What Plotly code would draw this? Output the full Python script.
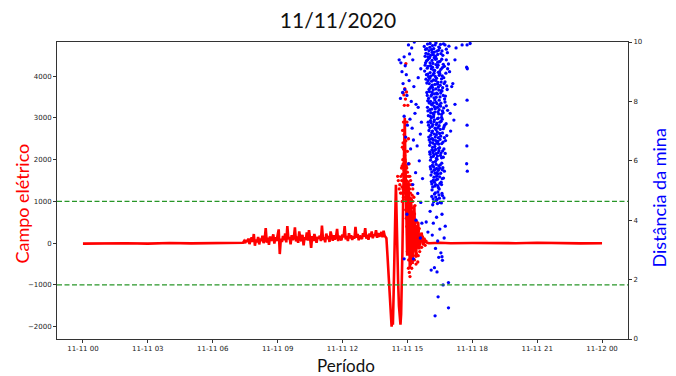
import pandas as pd
import plotly.graph_objects as go

BASE = pd.Timestamp("2020-11-11")

# ---------------- Campo elétrico (red, left axis) ----------------
red_pre_hours = [0.0, 0.9, 1.0, 2.0, 3.0, 4.0, 5.0, 6.0, 7.0, 7.35]
red_pre_vals = [-10, -5, 5, 0, -10, 5, -5, 0, 10, 20]

noise_start = 7.40
noise_step = 0.05
noise_vals = [
    10, 50, 0, 80, 30, 110, -20, 70, 140, 30,
    220, -60, 90, 20, 150, -30, 110, 50, 180, 0,
    80, 360, 10, 130, -40, 160, 60, 100, 210, -10,
    140, 50, 190, 330, -260, 110, 30, 170, 70, 230,
    20, 410, 90, 150, -30, 190, 80, 130, 380, 40,
    160, 10, 280, 100, 50, 200, -50, 140, 80, 260,
    60, 310, 120, -110, 170, 50, 220, 90, 10, 150,
    110, 180, 50, 420, 80, 140, 20, 230, 100, 170,
    30, 280, 120, 60, 190, 90, 150, 340, 50, 180,
    110, 70, 210, 140, 410, 90, 170, 50, 240, 120,
    190, 80, 160, 110, 390, 130, 220, 70, 180, 140,
    100, 240, 160, 360, 110, 200, 80, 230, 150, 280,
    120, 210, 170, 310, 130, 240, 160, 190, 270, 140,
    300, 180, 140,
]

event_hours = [14.03, 14.08, 14.13, 14.18, 14.23, 14.27, 14.30, 14.33, 14.36, 14.39,
               14.42, 14.45, 14.47, 14.50, 14.53, 14.57, 14.61, 14.65, 14.68, 14.71,
               14.74, 14.77, 14.80, 14.83, 14.86, 14.88, 14.90, 14.93, 14.96, 14.99,
               15.02, 15.05, 15.08, 15.11, 15.14, 15.17, 15.20, 15.24, 15.28, 15.32,
               15.36, 15.40, 15.45, 15.50, 15.55, 15.60, 15.66, 15.72, 15.78, 15.85,
               15.92, 16.00]
event_vals = [120, -300, -800, -1300, -1750, -2000, -1850, -1950, -1300, -400,
              500, 1200, 1400, 700, -200, -900, -1500, -1900, -1950, -1700,
              -1100, -200, 900, 1700, 2500, 3000, 2200, 1400, 500, -300,
              600, 1500, 700, -600, 200, 1100, 300, -500, 400, 900,
              100, -350, 300, 500, -150, 150, 250, -50, 100, 30,
              10, 0]

red_post_hours = [16.5, 17.0, 18.0, 19.0, 20.0, 21.0, 22.0, 23.0, 24.0]
red_post_vals = [10, 0, 5, -5, 0, 10, 0, -5, 0]

cloud_hours = [
    14.80, 14.84, 14.88, 14.91, 14.96, 14.86, 14.82, 14.78, 14.85, 14.80,
    14.83, 14.87, 14.90, 14.79, 14.93, 15.00, 14.97, 15.08, 14.76, 14.93,
    14.72, 14.74, 14.76, 14.78, 14.80, 14.82, 14.84, 14.86, 14.88, 14.90,
    14.92, 14.94, 14.96, 14.98, 15.00, 15.02, 15.04, 15.06, 15.08, 15.10,
    15.12, 15.14, 15.16, 15.18, 15.20, 15.24, 15.28, 14.81, 14.89, 14.95,
    15.03, 14.75, 14.99, 15.07, 15.13, 15.22,
    14.92, 14.95, 14.98, 15.01, 15.04, 15.06, 15.09, 15.12, 15.15, 15.18,
    15.21, 15.24, 15.27, 15.30, 15.33, 15.36, 15.39, 15.42, 15.45, 15.48,
    15.51, 15.54, 15.57, 15.60, 15.63, 15.66, 15.70, 15.74, 15.78, 15.82,
    15.86, 15.10, 15.16, 15.20, 15.26, 15.32, 15.40, 15.00, 15.03, 15.14,
    15.05, 15.35, 15.44, 15.50, 14.58, 14.62, 14.55,
    14.65, 14.70, 15.15, 15.25, 15.30, 15.35, 14.68, 15.18, 15.22, 15.05,
    14.98, 15.02, 14.73, 14.77, 15.11, 15.33, 15.45, 15.55, 15.38, 15.48,
]
cloud_vals = [
    3600, 3550, 3700, 3450, 3620, 3300, 2900, 2700, 2600, 2400,
    2250, 2100, 1950, 2000, 2450, 2200, 1800, 1900, 1850, 4300,
    1200, 1500, 1000, 1650, 1300, 1100, 1750, 1450, 1200, 1600,
    1050, 1350, 1500, 1150, 1700, 1250, 950, 1400, 1100, 1300,
    1000, 1200, 900, 1050, 850, 1000, 700, 1900, 2000, 1850,
    1600, 1350, 1000, 800, 700, 600,
    800, 600, 400, 200, -100, -400, -700, -800, -500, -300,
    100, 300, -200, 500, -400, 200, 400, -250, 150, -100,
    300, 100, -200, 200, 50, -100, 150, 0, 100, -50,
    50, 500, 600, -600, 750, 100, -500, -200, 700, 300,
    -600, -150, 350, -300, 1500, 1300, 1600,
    1400, 1600, 1500, 1300, 1100, 900, 1200, 1400, 1150, 2500,
    2900, 3300, 1800, 2300, 1600, 700, 500, 350, -300, -450,
]

# ---------------- Distância da mina (blue, right axis) ----------------
core_hours = [
    15.78, 15.86, 15.93, 16.00, 16.08, 16.16, 16.24, 16.32, 16.40, 16.49, 16.60, 16.74,
    15.82, 15.90, 15.97, 16.05, 16.12, 16.20, 16.28, 16.36, 16.45, 16.55, 16.67, 16.85,
    15.84, 15.92, 16.00, 16.07, 16.14, 16.22, 16.30, 16.38, 16.46, 16.55, 16.66, 16.80,
    15.80, 15.88, 15.96, 16.03, 16.11, 16.18, 16.26, 16.34, 16.42, 16.51, 16.62, 16.90,
    15.86, 15.94, 16.01, 16.08, 16.15, 16.23, 16.31, 16.39, 16.47, 16.56, 16.68, 16.82,
    15.90, 15.98, 16.05, 16.12, 16.19, 16.27, 16.35, 16.43, 16.52, 16.61, 16.74,
    15.90, 15.98, 16.05, 16.12, 16.19, 16.27, 16.35, 16.43, 16.51, 16.60, 16.72, 16.84,
    15.94, 16.02, 16.09, 16.16, 16.23, 16.31, 16.39, 16.47, 16.56, 16.66,
    15.93, 16.01, 16.08, 16.15, 16.22, 16.29, 16.37, 16.45, 16.53, 16.62, 16.74, 16.86,
    15.97, 16.04, 16.11, 16.18, 16.25, 16.33, 16.41, 16.49, 16.58, 16.68,
    15.96, 16.04, 16.11, 16.18, 16.25, 16.32, 16.39, 16.47, 16.56, 16.66, 16.79,
    16.00, 16.07, 16.14, 16.21, 16.28, 16.36, 16.43, 16.52, 16.61, 16.72,
    15.99, 16.06, 16.13, 16.20, 16.27, 16.34, 16.41, 16.49, 16.59, 16.71, 16.82,
    16.03, 16.10, 16.17, 16.24, 16.31, 16.38, 16.45, 16.54, 16.65,
    16.03, 16.10, 16.16, 16.23, 16.30, 16.37, 16.44, 16.53, 16.63, 16.75,
    16.07, 16.13, 16.20, 16.27, 16.34, 16.41, 16.49, 16.58, 16.69,
    16.06, 16.13, 16.19, 16.26, 16.33, 16.41, 16.49, 16.59, 16.71,
    16.09, 16.16, 16.23, 16.30, 16.37, 16.45, 16.54, 16.64,
    16.11, 16.17, 16.23, 16.31, 16.39, 16.47, 16.56, 16.67,
    16.14, 16.20, 16.27, 16.35, 16.43, 16.51, 16.61,
    16.13, 16.21, 16.29, 16.37, 16.46, 16.57, 16.69,
    16.17, 16.25, 16.33, 16.41, 16.51, 16.62,
]
core_dist = [
    9.85, 9.62, 9.93, 9.71, 9.55, 9.88, 9.66, 9.97, 9.58, 9.80, 9.70, 9.90,
    9.52, 9.78, 9.60, 9.95, 9.74, 9.57, 9.90, 9.69, 9.83, 9.61, 9.94, 9.64,
    9.30, 9.12, 9.45, 9.20, 9.38, 9.05, 9.42, 9.15, 9.33, 9.08, 9.25, 9.40,
    9.02, 9.36, 9.18, 9.48, 9.10, 9.28, 9.04, 9.44, 9.22, 9.35, 9.14, 9.26,
    8.75, 8.92, 8.60, 8.85, 8.55, 8.95, 8.70, 8.58, 8.88, 8.65, 8.80, 8.52,
    8.62, 8.83, 8.97, 8.68, 8.90, 8.57, 8.78, 8.98, 8.54, 8.86, 8.66,
    8.30, 8.10, 8.45, 8.22, 8.38, 8.05, 8.28, 8.48, 8.15, 8.35, 8.08, 8.40,
    8.02, 8.33, 8.18, 8.47, 8.12, 8.42, 8.25, 8.04, 8.36, 8.20,
    7.80, 7.95, 7.62, 7.88, 7.55, 7.75, 7.92, 7.58, 7.84, 7.68, 7.98, 7.70,
    7.52, 7.72, 7.90, 7.60, 7.82, 7.97, 7.65, 7.87, 7.56, 7.78,
    7.30, 7.12, 7.45, 7.22, 7.38, 7.05, 7.42, 7.18, 7.33, 7.08, 7.25,
    7.02, 7.35, 7.16, 7.48, 7.10, 7.27, 7.44, 7.06, 7.40, 7.20,
    6.80, 6.62, 6.95, 6.70, 6.55, 6.88, 6.65, 6.92, 6.58, 6.78, 6.85,
    6.52, 6.74, 6.60, 6.90, 6.68, 6.97, 6.56, 6.83, 6.63,
    6.30, 6.12, 6.45, 6.20, 6.38, 6.05, 6.42, 6.18, 6.33, 6.25,
    6.02, 6.36, 6.15, 6.48, 6.08, 6.27, 6.44, 6.10, 6.40,
    5.80, 5.62, 5.95, 5.70, 5.88, 5.55, 5.75, 5.92, 5.65,
    5.52, 5.85, 5.68, 5.98, 5.60, 5.83, 5.58, 5.77,
    5.30, 5.12, 5.45, 5.20, 5.38, 5.05, 5.28, 5.42,
    5.02, 5.35, 5.15, 5.48, 5.10, 5.24, 5.40,
    4.80, 4.62, 4.92, 4.70, 4.85, 4.58, 4.75,
    4.52, 4.88, 4.66, 4.95, 4.60, 4.83,
]

core2_hours = [
    15.84, 15.95, 16.04, 16.14, 16.22, 16.30, 16.44, 16.53, 16.64, 16.80, 16.92,
    15.82, 15.94, 16.05, 16.16, 16.24, 16.32, 16.40, 16.49, 16.59, 16.71, 16.86,
    15.88, 15.96, 16.03, 16.10, 16.21, 16.29, 16.41, 16.50, 16.58, 16.70, 16.78,
    15.92, 16.00, 16.07, 16.14, 16.25, 16.33, 16.45, 16.54, 16.63, 16.76,
    15.95, 16.06, 16.13, 16.20, 16.27, 16.39, 16.47, 16.55, 16.65, 16.80,
    15.98, 16.09, 16.16, 16.23, 16.34, 16.41, 16.50, 16.58, 16.69,
    16.01, 16.08, 16.15, 16.29, 16.36, 16.43, 16.51, 16.62, 16.76,
    16.05, 16.18, 16.25, 16.32, 16.39, 16.46, 16.55, 16.66,
    16.08, 16.21, 16.28, 16.35, 16.43, 16.52, 16.61,
    16.13, 16.25, 16.33, 16.41, 16.49, 16.58,
    16.19, 16.31, 16.39, 16.48, 16.60,
]
core2_dist = [
    9.75, 9.50, 9.82, 9.65, 9.78, 9.52, 9.72, 9.92, 9.55, 9.76, 9.86,
    9.22, 9.40, 9.30, 9.15, 9.47, 9.24, 9.32, 9.00, 9.42, 9.18, 9.10,
    8.90, 8.70, 8.78, 8.50, 8.72, 8.84, 8.64, 8.93, 8.76, 8.60, 8.95,
    8.20, 8.40, 8.00, 8.30, 8.25, 8.14, 8.38, 8.28, 8.46, 8.18,
    7.68, 7.50, 7.74, 7.95, 7.64, 7.80, 7.72, 7.94, 7.62, 7.85,
    7.20, 7.28, 7.00, 7.32, 7.22, 7.12, 7.30, 7.46, 7.14,
    6.70, 6.86, 6.75, 6.80, 6.60, 6.78, 6.72, 6.94, 6.68,
    6.22, 6.28, 6.35, 6.24, 6.16, 6.34, 6.26, 6.12,
    5.72, 5.80, 5.58, 5.74, 5.68, 5.86, 5.70,
    5.22, 5.28, 5.36, 5.16, 5.46, 5.20,
    4.72, 4.78, 4.56, 4.74, 4.90,
]

left_hours = [
    14.62, 14.70, 14.75, 14.80, 14.85, 14.90, 14.95, 15.05, 15.10, 15.20, 15.25, 15.32,
    14.68, 14.78, 14.88, 14.98, 15.08, 15.18, 15.30, 15.40, 15.50, 15.62,
    14.85, 15.00, 15.12, 15.22, 15.35, 15.50, 15.65,
    14.92, 15.15, 15.28, 15.45, 15.60,
    15.05, 15.38, 15.55, 15.70, 15.25, 15.48, 15.62,
    14.98, 15.40, 15.67, 15.60, 14.85, 15.28,
]
left_dist = [
    9.40, 9.30, 9.00, 8.60, 9.50, 9.20, 8.90, 9.90, 9.60, 9.80, 9.40, 10.0,
    8.10, 8.30, 8.40, 8.20, 8.70, 8.00, 8.50, 7.90, 8.80, 9.10,
    7.50, 7.20, 7.40, 7.10, 7.60, 7.80, 7.30,
    6.80, 6.40, 6.70, 6.50, 6.90,
    5.90, 5.60, 6.00, 5.40, 5.20, 4.90, 4.60,
    4.20, 4.00, 3.90, 3.40, 2.70, 2.70,
]

right_hours = [16.95, 17.05, 17.10, 17.00, 17.20, 17.15, 17.53, 17.76, 17.90, 17.74,
               17.77, 17.76, 17.76, 17.75, 17.74, 17.77, 17.20, 16.98, 17.25]
right_dist = [9.00, 8.50, 8.60, 7.00, 9.40, 7.37, 9.90, 9.90, 9.95, 9.15,
              9.10, 8.04, 7.20, 6.50, 5.90, 5.65, 7.90, 7.60, 9.80]

low_hours = [16.05, 16.35, 16.60, 16.20, 16.50, 16.75, 16.15, 16.40, 16.70, 15.95,
             16.30, 16.55, 16.45, 16.62, 16.25, 16.37, 16.10, 16.65, 16.90, 16.42,
             16.90, 16.28, 16.60, 15.87]
low_dist = [4.30, 4.10, 4.20, 3.90, 3.70, 3.80, 3.50, 3.30, 3.40, 3.60,
            3.05, 2.90, 2.75, 2.65, 2.40, 2.26, 2.32, 1.82, 1.90, 1.42,
            1.05, 0.78, 2.77, 3.94]

threshold_levels = [1000, -1000]
x_tick_hours = [0, 3, 6, 9, 12, 15, 18, 21, 24]


def to_time(hours):
    return BASE + pd.to_timedelta(hours, unit="h")


noise_hours = [noise_start + i * noise_step for i in range(len(noise_vals))]
line_hours = red_pre_hours + noise_hours + event_hours + red_post_hours
line_vals = red_pre_vals + noise_vals + event_vals + red_post_vals

blue_hours = core_hours + core2_hours + left_hours + right_hours + low_hours
blue_dist = core_dist + core2_dist + left_dist + right_dist + low_dist

RED = "#ff0000"
BLUE = "#0000ff"
AX = "#333333"
TICKFONT = dict(family="DejaVu Sans", size=7, color="#222222")
LABELFONT = "Lato"

fig = go.Figure()
fig.add_trace(go.Scatter(x=to_time(line_hours), y=line_vals, mode="lines",
                         line=dict(color=RED, width=2.6), showlegend=False,
                         hoverinfo="skip"))
fig.add_trace(go.Scatter(x=to_time(cloud_hours), y=cloud_vals, mode="markers",
                         marker=dict(color=RED, size=3.3, line=dict(width=0)),
                         showlegend=False))
fig.add_trace(go.Scatter(x=to_time(blue_hours), y=blue_dist, mode="markers",
                         yaxis="y2",
                         marker=dict(color=BLUE, size=3.3, line=dict(width=0)),
                         showlegend=False))

for lvl in threshold_levels:
    fig.add_shape(type="line", xref="paper", x0=0, x1=1, yref="y", y0=lvl, y1=lvl,
                  line=dict(color="rgb(40,150,40)", width=1.2, dash="5px,2.5px"))

tick_times = to_time(x_tick_hours)
fig.update_layout(
    width=676, height=376,
    margin=dict(l=57, r=48, t=42, b=37),
    paper_bgcolor="white", plot_bgcolor="white",
    title=dict(text="11/11/2020", x=0.5, xref="container", xanchor="center",
               y=1 - 21 / 376, yref="container", yanchor="middle",
               font=dict(family=LABELFONT, size=21, color="#111111")),
    xaxis=dict(range=[to_time(-1.2), to_time(25.2)],
               tickvals=list(tick_times),
               ticktext=[t.strftime("%m-%d %H") for t in tick_times],
               showgrid=False, zeroline=False, showline=True, linecolor=AX,
               linewidth=1, mirror=True, ticks="outside", ticklen=3,
               tickcolor=AX, tickfont=TICKFONT),
    yaxis=dict(range=[-2294, 4817], tickvals=[-2000, -1000, 0, 1000, 2000, 3000, 4000],
               showgrid=False, zeroline=False, showline=True, linecolor=AX,
               linewidth=1, ticks="outside", ticklen=3, tickcolor=AX,
               tickfont=TICKFONT),
    yaxis2=dict(range=[0, 10], tickvals=[0, 2, 4, 6, 8, 10], overlaying="y",
                side="right", showgrid=False, zeroline=False, showline=True,
                linecolor=AX, linewidth=1, ticks="outside", ticklen=3,
                tickcolor=AX, tickfont=TICKFONT),
)

fig.add_annotation(text="Período", xref="paper", yref="paper", x=0.507, y=-0.088,
                   xanchor="center", yanchor="middle", showarrow=False,
                   font=dict(family=LABELFONT, size=17, color="#111111"))
fig.add_annotation(text="Campo elétrico", xref="paper", yref="paper", x=-0.0613,
                   y=0.456, xanchor="center", yanchor="middle", textangle=-90,
                   showarrow=False, font=dict(family=LABELFONT, size=18, color=RED))
fig.add_annotation(text="Distância da mina", xref="paper", yref="paper", x=1.054,
                   y=0.476, xanchor="center", yanchor="middle", textangle=-90,
                   showarrow=False, font=dict(family=LABELFONT, size=18, color=BLUE))

fig.write_html("out.html",
               config={"displayModeBar": False},
               post_script="document.body.style.margin='0';"
                           "document.body.style.padding='0';")
